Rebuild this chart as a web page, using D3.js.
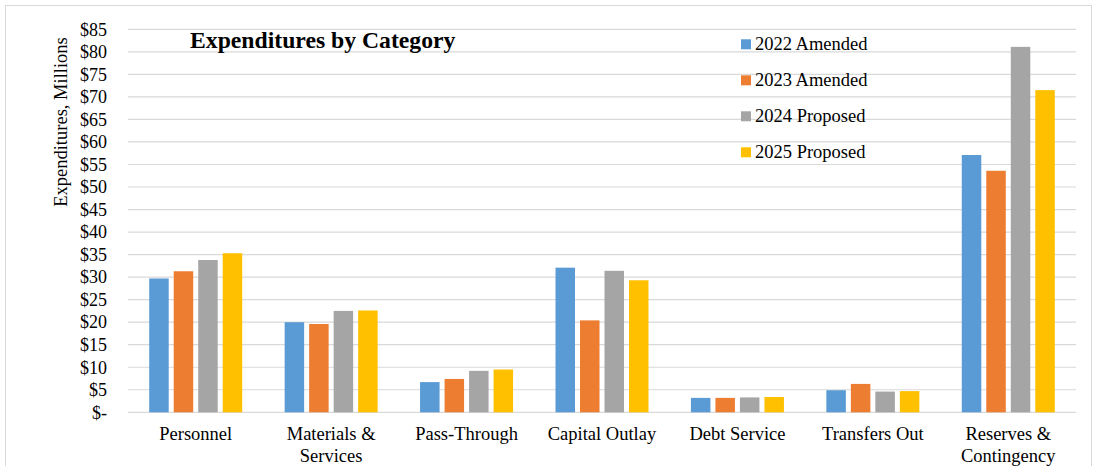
<!DOCTYPE html>
<html>
<head>
    <script src="https://cdn.jsdelivr.net/npm/d3@7"></script>
    <style>
        body { margin: 0; background: #fff; }
        svg { display: block; }
        text { font-family: "Liberation Serif", "Times New Roman", serif; fill: #000; }
    </style>
</head>
<body>
    <svg width="1097" height="466"></svg>
    <script>
        const categories = ["Personnel", "Materials & Services", "Pass-Through", "Capital Outlay",
                            "Debt Service", "Transfers Out", "Reserves & Contingency"]
        const seriesNames = ["2022 Amended", "2023 Amended", "2024 Proposed", "2025 Proposed"]
        const colors = ["#5b9bd5", "#ed7d31", "#a5a5a5", "#ffc000"]
        const v2022 = [29.7, 20.0, 6.7, 32.1, 3.2, 4.9, 57.1]
        const v2023 = [31.3, 19.6, 7.4, 20.4, 3.2, 6.3, 53.6]
        const v2024 = [33.8, 22.5, 9.2, 31.4, 3.3, 4.6, 81.1]
        const v2025 = [35.3, 22.6, 9.5, 29.3, 3.4, 4.7, 71.5]
        const yTicks = d3.range(0, 90, 5)

        const series = [v2022, v2023, v2024, v2025]
        const rows = []
        categories.forEach(function(c, i) {
            series.forEach(function(s, j) {
                rows.push({ cat: c, key: seriesNames[j], value: s[i], color: colors[j] })
            })
        })

        const svg = d3.select("svg")
        const plotLeft = 128, plotRight = 1076, plotTop = 29.3, plotBottom = 412.3

        // outer frame
        svg.append("rect")
            .attr("x", 5.5).attr("y", 5.5)
            .attr("width", 1086).attr("height", 470)
            .attr("fill", "none").attr("stroke", "#d9d9d9")

        const x = d3.scaleBand().domain(categories).range([plotLeft, plotRight]).paddingInner(0).paddingOuter(0)
        const x1 = d3.scaleBand().domain(seriesNames).range([0, 98]).paddingInner(0)
        const y = d3.scaleLinear().domain([0, 85]).range([plotBottom, plotTop])

        // grid
        svg.append("g")
            .selectAll("line")
            .data(yTicks)
            .enter()
            .append("line")
                .attr("x1", plotLeft).attr("x2", plotRight)
                .attr("y1", d => y(d)).attr("y2", d => y(d))
                .attr("stroke", "#d9d9d9").attr("stroke-width", 1.2)

        // y axis labels
        const yAxis = d3.axisLeft(y).tickValues(yTicks).tickSize(0).tickPadding(0)
            .tickFormat(d => d === 0 ? "$-" : "$" + d)
        const gy = svg.append("g").attr("transform", "translate(107,0)").call(yAxis)
        gy.select(".domain").remove()
        gy.selectAll("text")
            .style("font-family", "Liberation Serif, serif")
            .style("font-size", "18px")
            .attr("fill", "#000")

        // bars
        svg.append("g")
            .selectAll("rect")
            .data(rows)
            .enter()
            .append("rect")
                .attr("x", d => x(d.cat) + x.bandwidth() / 2 - 49 + x1(d.key) + 2.5)
                .attr("y", d => y(d.value))
                .attr("width", x1.bandwidth() - 5)
                .attr("height", d => plotBottom - y(d.value))
                .attr("fill", d => d.color)

        // x labels
        const xl = svg.append("g")
            .selectAll("text")
            .data(categories)
            .enter()
            .append("text")
                .attr("text-anchor", "middle")
                .attr("x", d => x(d) + x.bandwidth() / 2)
                .attr("y", 440)
                .style("font-size", "18.5px")
        xl.each(function(d) {
            const amp = d.indexOf("&")
            const parts = amp > 0 ? [d.slice(0, amp + 1), d.slice(amp + 2)] : [d]
            const t = d3.select(this)
            parts.forEach(function(p, k) {
                t.append("tspan").attr("x", t.attr("x")).attr("dy", k === 0 ? 0 : 22).text(p)
            })
        })

        // y title
        svg.append("text")
            .attr("transform", "translate(67,122) rotate(-90)")
            .attr("text-anchor", "middle")
            .style("font-size", "18.5px")
            .text("Expenditures, Millions")

        // chart title
        svg.append("text")
            .attr("x", 190).attr("y", 48)
            .style("font-size", "23.7px")
            .style("font-weight", "bold")
            .text("Expenditures by Category")

        // legend
        const lg = svg.append("g")
            .selectAll("g")
            .data(seriesNames)
            .enter()
            .append("g")
                .attr("transform", (d, i) => "translate(741," + (44.3 + i * 36) + ")")
        lg.append("rect")
            .attr("x", 0).attr("y", -5)
            .attr("width", 10).attr("height", 10)
            .attr("fill", (d, i) => colors[i])
        lg.append("text")
            .attr("x", 14).attr("y", 6)
            .style("font-size", "18.5px")
            .text(d => d)
    </script>
</body>
</html>
